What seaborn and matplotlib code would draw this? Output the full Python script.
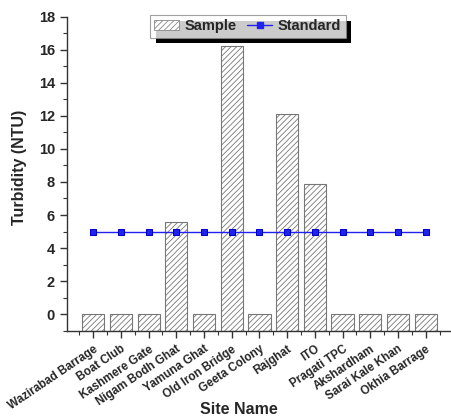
import matplotlib
matplotlib.use("Agg")
import matplotlib.pyplot as plt
import seaborn as sns
import pandas as pd
from matplotlib.ticker import MultipleLocator
from matplotlib.patches import Patch
from matplotlib.lines import Line2D
import matplotlib.patheffects as pe

sites = ["Wazirabad Barrage", "Boat Club", "Kashmere Gate", "Nigam Bodh Ghat",
         "Yamuna Ghat", "Old Iron Bridge", "Geeta Colony", "Rajghat", "ITO",
         "Pragati TPC", "Akshardham", "Sarai Kale Khan", "Okhia Barrage"]
sample = [0, 0, 0, 5.6, 0, 16.2, 0, 12.1, 7.9, 0, 0, 0, 0]
standard = [5, 5, 5, 5, 5, 5, 5, 5, 5, 5, 5, 5, 5]

sns.set_style("ticks")
plt.rcParams['font.family'] = ['Liberation Sans', 'DejaVu Sans']
plt.rcParams['font.weight'] = 'bold'
plt.rcParams['hatch.color'] = '#666666'
plt.rcParams['hatch.linewidth'] = 0.6

df = pd.DataFrame({"site": sites, "sample": sample, "standard": standard})

fig = plt.figure(figsize=(4.52, 4.16), dpi=100)
ax = fig.add_axes([0.148, 0.205, 0.852, 0.755])

sns.barplot(data=df, x="site", y="sample", ax=ax, color="white",
            edgecolor="#777777", linewidth=0.8, width=0.8, hatch="//////")
ymin = -1
for p in ax.patches:
    h = p.get_height()
    p.set_y(ymin)
    p.set_height(h - ymin)

sns.lineplot(x=list(range(len(sites))), y=df["standard"], ax=ax, color="#2222ee",
             marker="s", markersize=4, markeredgecolor="#0000cc", linewidth=1.0)

ax.set_ylim(ymin, 18)
ax.set_xlim(-0.95, 12.95)
ax.yaxis.set_major_locator(MultipleLocator(2))
ax.yaxis.set_minor_locator(MultipleLocator(1))
ax.set_xticks(range(len(sites)))
ax.set_xticks([i + 0.5 for i in range(-1, len(sites))], minor=True)
ax.set_xticklabels(sites, rotation=34, ha="right", rotation_mode="anchor",
                   fontsize=8.4, fontweight="bold")
for lab in ax.get_yticklabels():
    lab.set_fontsize(10.5)
    lab.set_fontweight("bold")
ax.tick_params(axis="both", which="major", length=5, width=1, direction="out", color="#333333")
ax.tick_params(axis="both", which="minor", length=3, width=0.8, direction="out", color="#333333")
ax.tick_params(axis="x", which="major", pad=4)
ax.set_xlabel("Site Name", fontsize=11.5, fontweight="bold")
ax.xaxis.set_label_coords(239 / 452, 1 - 409 / 416, transform=fig.transFigure)
ax.xaxis.label.set_va("center")
ax.set_ylabel("Turbidity (NTU)", fontsize=11.5, fontweight="bold")
ax.yaxis.set_label_coords(20 / 452, 1 - 167 / 416, transform=fig.transFigure)
ax.yaxis.label.set_va("center")
sns.despine(ax=ax)
for s in ["left", "bottom"]:
    ax.spines[s].set_color("#333333")
    ax.spines[s].set_linewidth(1)

handles = [Patch(facecolor="white", edgecolor="#888888", hatch="//////", linewidth=0.6),
           Line2D([0], [0], color="#2222ee", marker="s", markersize=4, linewidth=1.0)]
leg = ax.legend(handles, ["Sample", "Standard"], loc="upper left",
                bbox_to_anchor=(150 / 452, 1 - 15 / 416), bbox_transform=fig.transFigure,
                ncol=2, frameon=True, fancybox=False,
                shadow=False, fontsize=10.5, handlelength=1.7, handletextpad=0.4,
                columnspacing=0.7, borderpad=0.3, borderaxespad=0, edgecolor="#888888")
leg.get_frame().set_linewidth(0.8)
leg.get_frame().set_path_effects([pe.SimplePatchShadow(offset=(4, -4), shadow_rgbFace="black", alpha=1), pe.Normal()])
for t in leg.get_texts():
    t.set_fontweight("bold")

fig.savefig("out.png", dpi=100)
